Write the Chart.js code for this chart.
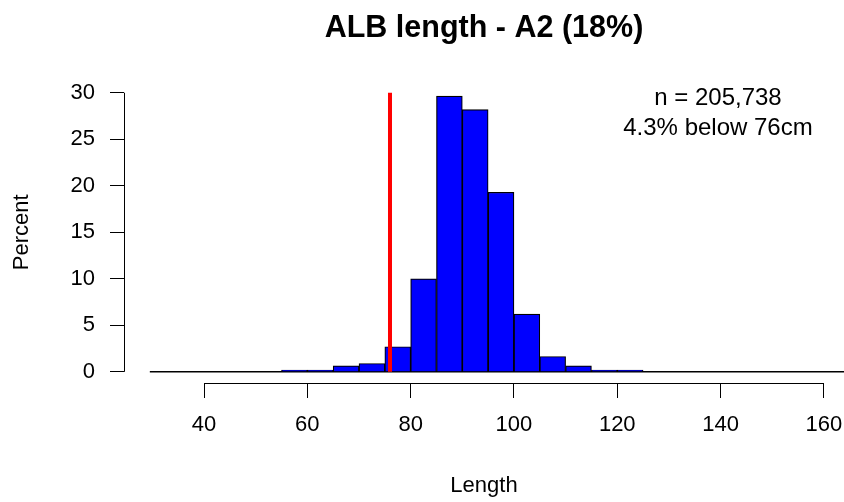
<!DOCTYPE html>
<html>
<head>
<meta charset="utf-8">
<script src="https://cdn.jsdelivr.net/npm/chart.js@4.4.1/dist/chart.umd.min.js"></script>
<style>
  html, body { margin: 0; padding: 0; background: #fff; overflow: hidden; }
</style>
</head>
<body>
<canvas id="c" width="844" height="502"></canvas>
<script>
// histogram bins (lower edge, cm) and percent of fish in each
const binLower = [55, 60, 65, 70, 75, 80, 85, 90, 95, 100, 105, 110, 115, 120];
const binWidth = 5;
const percent = [0.2, 0.2, 0.65, 0.9, 2.7, 10.0, 29.65, 28.2, 19.3, 6.2, 1.65, 0.65, 0.2, 0.2];

const xTicks = [40, 60, 80, 100, 120, 140, 160];
const yTicks = [0, 5, 10, 15, 20, 25, 30];

const cutoff = 76;          // red line, cm
const nFish = "205,738";
const pctBelow = 4.3;

const FONT = "'Liberation Sans', Arial, sans-serif";

// R style axes: line only from first to last tick
const rAxes = {
    id: "rAxes",
    afterDraw(chart) {
        const { ctx, chartArea, scales } = chart;
        const x = scales.x, y = scales.y;
        ctx.save();
        ctx.strokeStyle = "#000";
        ctx.lineWidth = 1;
        ctx.beginPath();
        ctx.moveTo(chartArea.left + 0.5, y.getPixelForValue(yTicks[0]));
        ctx.lineTo(chartArea.left + 0.5, y.getPixelForValue(yTicks[yTicks.length - 1]));
        ctx.moveTo(x.getPixelForValue(xTicks[0]), chartArea.bottom + 0.5);
        ctx.lineTo(x.getPixelForValue(xTicks[xTicks.length - 1]), chartArea.bottom + 0.5);
        ctx.stroke();

        // n and % below note
        ctx.fillStyle = "#000";
        ctx.font = "24px " + FONT;
        ctx.textAlign = "center";
        ctx.textBaseline = "middle";
        const tx = x.getPixelForValue(139.5);
        ctx.fillText("n = " + nFish, tx, y.getPixelForValue(29.35));
        ctx.fillText(pctBelow + "% below " + cutoff + "cm", tx, y.getPixelForValue(26.15));
        ctx.restore();
    },
};

new Chart(document.getElementById("c"), {
    type: "bar",
    data: {
        datasets: [
            {
                type: "line",
                label: "cutoff",
                data: [{ x: cutoff, y: 0 }, { x: cutoff, y: 30 }],
                borderColor: "#ff0000",
                borderWidth: 4,
                pointRadius: 0,
                order: 0,
            },
            {
                label: "Percent",
                data: binLower.map((lo, i) => ({ x: lo + binWidth / 2, y: percent[i] })),
                backgroundColor: "#0000ff",
                borderColor: "#000",
                borderWidth: 1.2,
                barPercentage: 1,
                categoryPercentage: 1,
                order: 1,
            },
            {
                type: "line",
                label: "base",
                data: [{ x: 29.5, y: 0 }, { x: 170, y: 0 }],
                borderColor: "#000",
                borderWidth: 1.5,
                pointRadius: 0,
                order: 2,
            },
        ],
    },
    options: {
        responsive: false,
        animation: false,
        layout: { padding: 0 },
        plugins: {
            legend: { display: false },
            tooltip: { enabled: false },
            title: {
                display: true,
                fullSize: false,
                text: "ALB length - A2 (18%)",
                color: "#000",
                font: { family: FONT, size: 30.5, weight: "bold" },
                padding: { top: 10, bottom: 35 },
            },
        },
        scales: {
            x: {
                type: "linear",
                offset: false,
                min: 24.5,
                max: 163.9,
                afterBuildTicks: (s) => { s.ticks = xTicks.map((v) => ({ value: v })); },
                afterFit: (s) => { s.height = 119; s.paddingLeft = 0; s.paddingRight = 0; },
                grid: { offset: false, drawOnChartArea: false, tickLength: 15, color: "#000" },
                border: { display: false },
                ticks: { color: "#000", font: { family: FONT, size: 22 }, padding: 14, maxRotation: 0, autoSkip: false },
                title: { display: true, text: "Length", color: "#000", font: { family: FONT, size: 22 }, padding: { top: 0, bottom: 3 } },
            },
            y: {
                min: -1.2,
                max: 31.2,
                afterBuildTicks: (s) => { s.ticks = yTicks.map((v) => ({ value: v })); },
                afterFit: (s) => { s.width = 124; s.paddingTop = 0; s.paddingBottom = 0; },
                grid: { drawOnChartArea: false, tickLength: 14, color: "#000" },
                border: { display: false },
                ticks: { color: "#000", font: { family: FONT, size: 22 }, padding: 15, autoSkip: false },
                title: { display: true, text: "Percent", color: "#000", font: { family: FONT, size: 22 }, padding: { top: 9, bottom: 0 } },
            },
        },
    },
    plugins: [rAxes],
});
</script>
</body>
</html>
